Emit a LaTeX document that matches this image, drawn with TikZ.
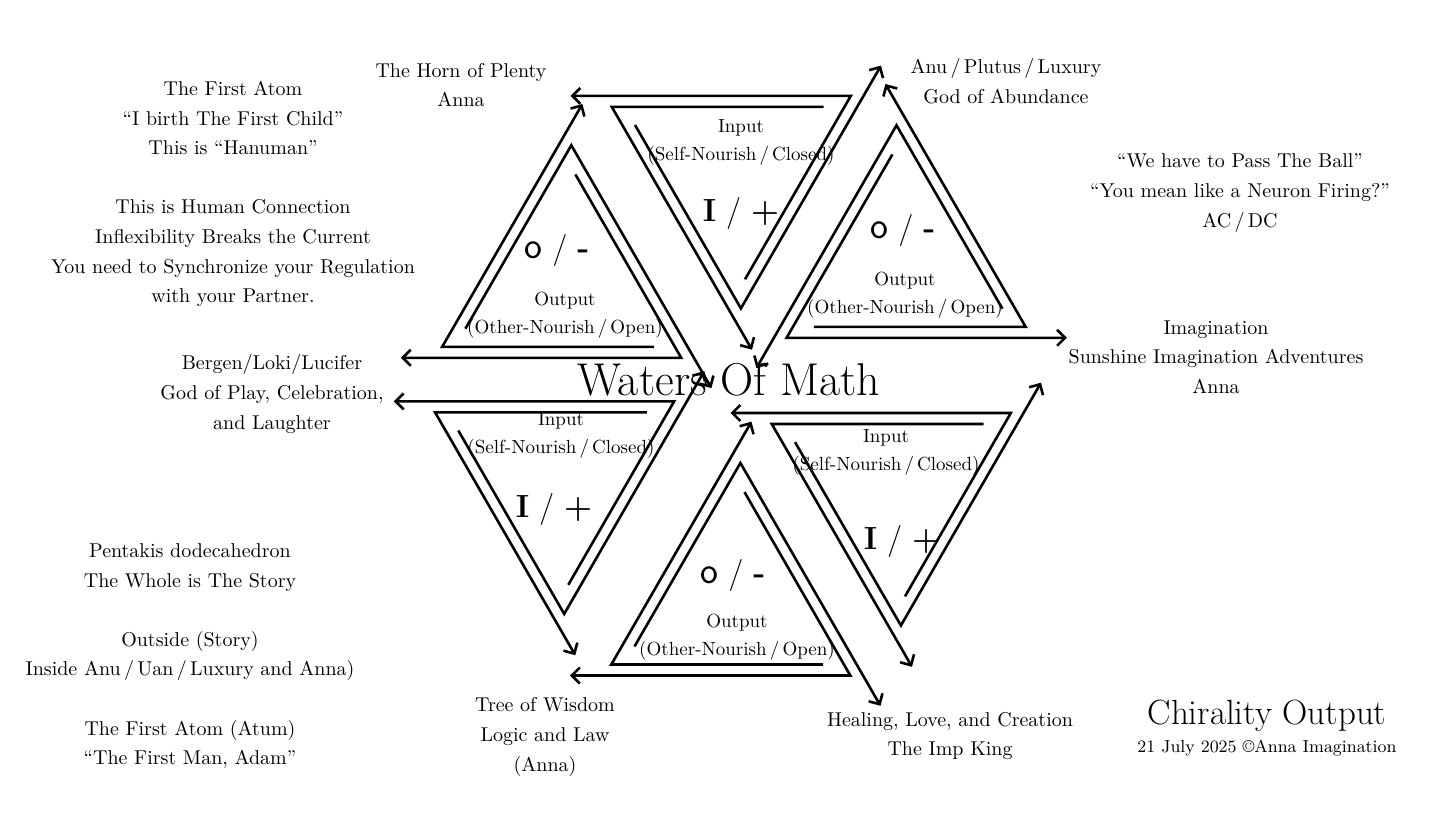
\documentclass[tikz,border=0pt]{standalone}
\usepackage{fontspec}
\usetikzlibrary{arrows.meta,positioning}

% one triangle of three chasing arrows, centroid at the origin, point down
\newcommand{\threearrows}{%
  \draw[arrowline] (89,-63.5) -- (-122.7,-63.5) -- (17.5,179.3);
  \draw[arrowline] (-99.5,-45.4) -- (6.4,138) -- (146.5,-104.8);
  \draw[arrowline] (10.5,108.9) -- (116.3,-74.5) -- (-164,-74.5);
}
\newcommand{\outsign}{{\fontsize{19}{19}\selectfont\textsf{o}}\hspace{5pt}/\hspace{5pt}\textbf{-}}
\newcommand{\insign}{\textbf{I}\hspace{5pt}/\hspace{5pt}\textbf{+}}

\begin{document}
\begin{tikzpicture}[x=0.5pt,y=-0.5pt]
  \tikzstyle{arrowline}=[line width=1.3pt, line join=miter, -{Straight Barb[length=4pt,width=8pt]}]
  \tikzstyle{caption}=[align=center, inner sep=0pt, font=\fontsize{10}{14.8}\selectfont]
  \tikzstyle{inlabel}=[align=center, inner sep=0pt, font=\fontsize{9.5}{14}\selectfont]
  \tikzstyle{glyphs}=[inner sep=0pt, font=\fontsize{16}{18}\selectfont]
  \useasboundingbox (0,0) rectangle (1456,819);

  % the six triangles
  \begin{scope}[shift={(734.5,170.4)}] \threearrows \end{scope}
  \begin{scope}[shift={(557.8,475.9)}] \threearrows \end{scope}
  \begin{scope}[shift={(894.5,487.5)}] \threearrows \end{scope}
  \begin{scope}[shift={(902.9,263.3)}, rotate=180] \threearrows \end{scope}
  \begin{scope}[shift={(564.9,283.3)}, yscale=-1] \threearrows \end{scope}
  \begin{scope}[shift={(734,601)}, yscale=-1] \threearrows \end{scope}

  % labels inside the triangles
  \node[inlabel] (inTop) at (741,142) {Input\\(Self-Nourish\,/\,Closed)};
  \node[glyphs] (signTop) at (741,213) {\insign};
  \node[glyphs] (signUR) at (903,230) {\outsign};
  \node[inlabel] (outUR) at (905,295) {Output\\(Other-Nourish\,/\,Open)};
  \node[glyphs] (signUL) at (557,250) {\outsign};
  \node[inlabel] (outUL) at (565,315) {Output\\(Other-Nourish\,/\,Open)};
  \node[inlabel] (inBL) at (561,435) {Input\\(Self-Nourish\,/\,Closed)};
  \node[glyphs] (signBL) at (554,509) {\insign};
  \node[inlabel] (inBR) at (886,452) {Input\\(Self-Nourish\,/\,Closed)};
  \node[glyphs] (signBR) at (902,541) {\insign};
  \node[glyphs] (signBot) at (733,575) {\outsign};
  \node[inlabel] (outBot) at (737,637) {Output\\(Other-Nourish\,/\,Open)};

  \node[inner sep=0pt, font=\fontsize{23}{26}\selectfont] (waters) at (729,380) {Waters Of Math};

  % texts round the hexagon
  \node[caption] (horn) at (461,85) {The Horn of Plenty\\Anna};
  \node[caption] (anu) at (1006,81) {Anu\,/\,Plutus\,/\,Luxury\\God of Abundance};
  \node[caption] (atom) at (233,194) {The First Atom\\“I birth The First Child”\\This is “Hanuman”\\[14.8pt]This is Human Connection\\Inflexibility Breaks the Current\\You need to Synchronize your Regulation\\with your Partner.};
  \node[caption] (ball) at (1240,193) {“We have to Pass The Ball”\\“You mean like a Neuron Firing?”\\AC\,/\,DC};
  \node[caption] (imag) at (1216,357) {Imagination\\Sunshine Imagination Adventures\\Anna};
  \node[caption] (bergen) at (272,394) {Bergen/Loki/Lucifer\\God of Play, Celebration,\\and Laughter};
  \node[caption] (penta) at (190,656) {Pentakis dodecahedron\\The Whole is The Story\\[14.8pt]Outside (Story)\\Inside Anu\,/\,Uan\,/\,Luxury and Anna)\\[14.8pt]The First Atom (Atum)\\“The First Man, Adam”};
  \node[caption] (tree) at (545,737) {Tree of Wisdom\\Logic and Law\\(Anna)};
  \node[caption] (heal) at (950,736) {Healing, Love, and Creation\\The Imp King};

  \node[inner sep=0pt, font=\fontsize{17.5}{20}\selectfont] (title) at (1267,716) {Chirality Output};
  \node[inner sep=0pt, font=\fontsize{8.7}{11}\selectfont] (date) [below=3.5pt of title] {21 July 2025 ©Anna Imagination};
\end{tikzpicture}
\end{document}
